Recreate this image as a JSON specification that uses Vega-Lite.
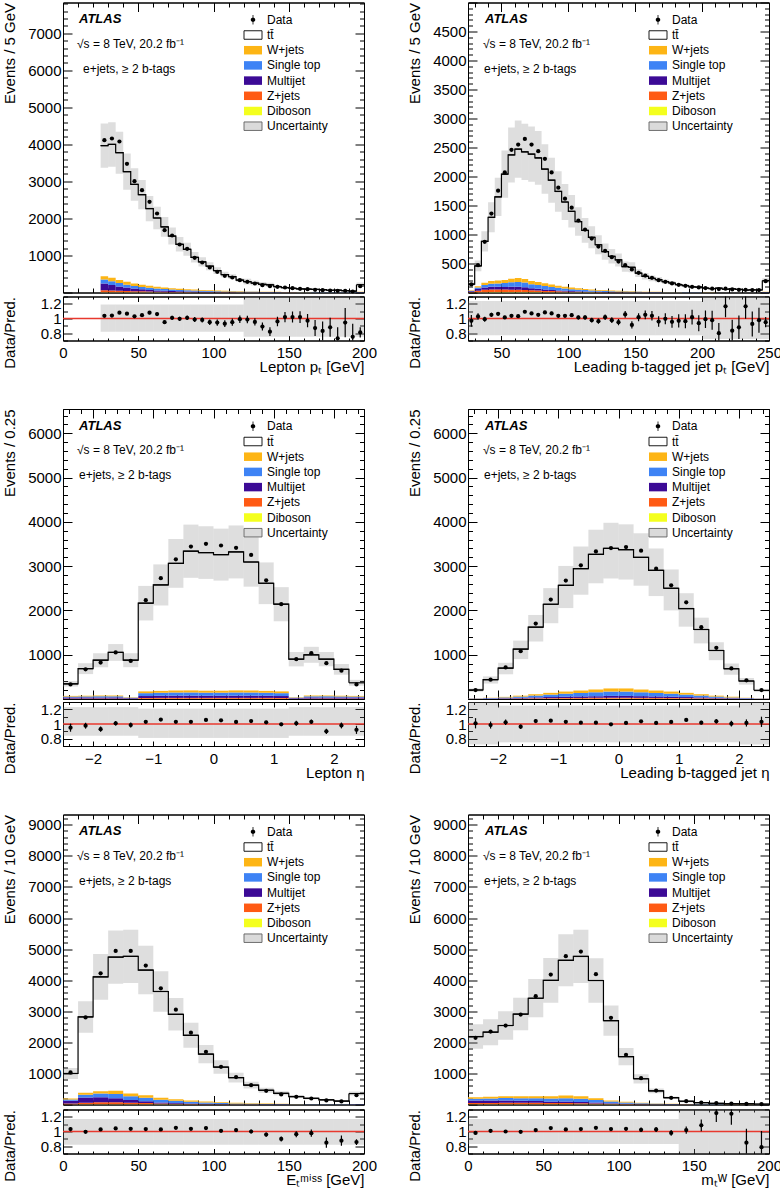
{
"$schema": "https://vega.github.io/schema/vega-lite/v6.json",
"background": "white",
"padding": {"left": 1, "top": 1.5, "right": 0, "bottom": 0},
"config": {
  "font": "Liberation Sans",
  "view": {"stroke": "black", "strokeWidth": 1},
  "axis": {"grid": false, "domain": false, "labelFont": "Liberation Sans", "labelFontSize": 15, "labelColor": "black", "titleFont": "Liberation Sans", "titleFontSize": 15, "titleFontWeight": "normal", "titleColor": "black", "tickColor": "black", "tickWidth": 1, "labelFlush": false, "labelOverlap": false, "zindex": 1},
  "text": {"font": "Liberation Sans", "color": "black"}
},
"datasets": {
"p1": [
{"lo":25,"hi":30,"c":27.5,"d":4113,"p":3966,"ul":3371,"uh":4561,"r":1.037,"re":0.016,"bl":0.82,"bh":1.19,"W+jets":90,"Single top":108,"Multijet":180,"Z+jets":55,"Diboson":7},
{"lo":30,"hi":35,"c":32.5,"d":4158,"p":3998,"ul":3398,"uh":4598,"r":1.04,"re":0.016,"bl":0.82,"bh":1.19,"W+jets":95,"Single top":100,"Multijet":150,"Z+jets":48,"Diboson":7},
{"lo":35,"hi":40,"c":37.5,"d":4077,"p":3775,"ul":3209,"uh":4341,"r":1.08,"re":0.016,"bl":0.82,"bh":1.19,"W+jets":85,"Single top":90,"Multijet":115,"Z+jets":43,"Diboson":7},
{"lo":40,"hi":45,"c":42.5,"d":3474,"p":3262,"ul":2773,"uh":3751,"r":1.065,"re":0.017,"bl":0.82,"bh":1.19,"W+jets":78,"Single top":80,"Multijet":90,"Z+jets":36,"Diboson":6},
{"lo":45,"hi":50,"c":47.5,"d":3006,"p":2918,"ul":2480,"uh":3356,"r":1.03,"re":0.019,"bl":0.82,"bh":1.19,"W+jets":70,"Single top":70,"Multijet":70,"Z+jets":30,"Diboson":5},
{"lo":50,"hi":55,"c":52.5,"d":2763,"p":2641,"ul":2245,"uh":3037,"r":1.046,"re":0.02,"bl":0.82,"bh":1.19,"W+jets":62,"Single top":62,"Multijet":55,"Z+jets":26,"Diboson":5},
{"lo":55,"hi":60,"c":57.5,"d":2448,"p":2267,"ul":1927,"uh":2607,"r":1.08,"re":0.021,"bl":0.82,"bh":1.19,"W+jets":55,"Single top":55,"Multijet":45,"Z+jets":21,"Diboson":4},
{"lo":60,"hi":65,"c":62.5,"d":2133,"p":2012,"ul":1710,"uh":2314,"r":1.06,"re":0.023,"bl":0.82,"bh":1.19,"W+jets":48,"Single top":50,"Multijet":35,"Z+jets":18,"Diboson":4},
{"lo":65,"hi":70,"c":67.5,"d":1683,"p":1772,"ul":1506,"uh":2038,"r":0.95,"re":0.024,"bl":0.82,"bh":1.19,"W+jets":42,"Single top":45,"Multijet":30,"Z+jets":15,"Diboson":3},
{"lo":70,"hi":75,"c":72.5,"d":1539,"p":1524,"ul":1295,"uh":1753,"r":1.01,"re":0.026,"bl":0.82,"bh":1.19,"W+jets":37,"Single top":40,"Multijet":25,"Z+jets":13,"Diboson":3},
{"lo":75,"hi":80,"c":77.5,"d":1296,"p":1302,"ul":1107,"uh":1497,"r":0.995,"re":0.028,"bl":0.82,"bh":1.19,"W+jets":33,"Single top":35,"Multijet":21,"Z+jets":11,"Diboson":3},
{"lo":80,"hi":85,"c":82.5,"d":1179,"p":1167,"ul":992,"uh":1342,"r":1.01,"re":0.03,"bl":0.82,"bh":1.19,"W+jets":29,"Single top":31,"Multijet":18,"Z+jets":9,"Diboson":3},
{"lo":85,"hi":90,"c":87.5,"d":936,"p":949,"ul":807,"uh":1091,"r":0.986,"re":0.033,"bl":0.82,"bh":1.19,"W+jets":26,"Single top":27,"Multijet":16,"Z+jets":8,"Diboson":2},
{"lo":90,"hi":95,"c":92.5,"d":810,"p":827,"ul":703,"uh":951,"r":0.98,"re":0.035,"bl":0.82,"bh":1.19,"W+jets":23,"Single top":24,"Multijet":13,"Z+jets":7,"Diboson":2},
{"lo":95,"hi":100,"c":97.5,"d":675,"p":711,"ul":604,"uh":818,"r":0.95,"re":0.038,"bl":0.82,"bh":1.19,"W+jets":20,"Single top":21,"Multijet":11,"Z+jets":6,"Diboson":2},
{"lo":100,"hi":105,"c":102.5,"d":558,"p":591,"ul":502,"uh":680,"r":0.944,"re":0.042,"bl":0.82,"bh":1.19,"W+jets":18,"Single top":18,"Multijet":9,"Z+jets":5,"Diboson":2},
{"lo":105,"hi":110,"c":107.5,"d":450,"p":484,"ul":411,"uh":557,"r":0.93,"re":0.047,"bl":0.82,"bh":1.19,"W+jets":16,"Single top":16,"Multijet":7,"Z+jets":4,"Diboson":2},
{"lo":110,"hi":115,"c":112.5,"d":405,"p":426,"ul":362,"uh":490,"r":0.95,"re":0.05,"bl":0.82,"bh":1.19,"W+jets":14,"Single top":14,"Multijet":6,"Z+jets":3,"Diboson":2},
{"lo":115,"hi":120,"c":117.5,"d":333,"p":336,"ul":286,"uh":386,"r":0.99,"re":0.05,"bl":0.82,"bh":1.19,"W+jets":12,"Single top":12,"Multijet":5,"Z+jets":3,"Diboson":2},
{"lo":120,"hi":125,"c":122.5,"d":288,"p":292,"ul":219,"uh":374,"r":0.986,"re":0.05,"bl":0.75,"bh":1.29,"W+jets":11,"Single top":11,"Multijet":4,"Z+jets":2,"Diboson":2},
{"lo":125,"hi":130,"c":127.5,"d":243,"p":255,"ul":191,"uh":326,"r":0.953,"re":0.05,"bl":0.75,"bh":1.29,"W+jets":9,"Single top":10,"Multijet":3,"Z+jets":2,"Diboson":2},
{"lo":130,"hi":135,"c":132.5,"d":198,"p":222,"ul":167,"uh":284,"r":0.89,"re":0.055,"bl":0.75,"bh":1.29,"W+jets":8,"Single top":9,"Multijet":3,"Z+jets":2,"Diboson":1},
{"lo":135,"hi":140,"c":137.5,"d":171,"p":208,"ul":156,"uh":266,"r":0.82,"re":0.06,"bl":0.75,"bh":1.29,"W+jets":7,"Single top":8,"Multijet":2,"Z+jets":2,"Diboson":1},
{"lo":140,"hi":145,"c":142.5,"d":153,"p":159,"ul":119,"uh":204,"r":0.96,"re":0.065,"bl":0.75,"bh":1.29,"W+jets":6,"Single top":7,"Multijet":2,"Z+jets":2,"Diboson":1},
{"lo":145,"hi":150,"c":147.5,"d":135,"p":132,"ul":99,"uh":169,"r":1.02,"re":0.07,"bl":0.75,"bh":1.29,"W+jets":6,"Single top":6,"Multijet":2,"Z+jets":1,"Diboson":1},
{"lo":150,"hi":155,"c":152.5,"d":117,"p":115,"ul":86,"uh":147,"r":1.02,"re":0.075,"bl":0.75,"bh":1.29,"W+jets":5,"Single top":5,"Multijet":2,"Z+jets":1,"Diboson":1},
{"lo":155,"hi":160,"c":157.5,"d":99,"p":97,"ul":73,"uh":124,"r":1.02,"re":0.08,"bl":0.75,"bh":1.29,"W+jets":4,"Single top":5,"Multijet":1,"Z+jets":1,"Diboson":1},
{"lo":160,"hi":165,"c":162.5,"d":90,"p":93,"ul":70,"uh":119,"r":0.97,"re":0.09,"bl":0.75,"bh":1.29,"W+jets":4,"Single top":4,"Multijet":1,"Z+jets":1,"Diboson":1},
{"lo":165,"hi":170,"c":167.5,"d":72,"p":83,"ul":62,"uh":106,"r":0.87,"re":0.11,"bl":0.75,"bh":1.29,"W+jets":4,"Single top":4,"Multijet":1,"Z+jets":1,"Diboson":0},
{"lo":170,"hi":175,"c":172.5,"d":63,"p":76,"ul":57,"uh":97,"r":0.83,"re":0.13,"bl":0.75,"bh":1.29,"W+jets":3,"Single top":3,"Multijet":1,"Z+jets":1,"Diboson":1},
{"lo":175,"hi":180,"c":177.5,"d":54,"p":61,"ul":46,"uh":78,"r":0.88,"re":0.13,"bl":0.75,"bh":1.29,"W+jets":3,"Single top":3,"Multijet":1,"Z+jets":1,"Diboson":0},
{"lo":180,"hi":185,"c":182.5,"d":45,"p":62,"ul":47,"uh":79,"r":0.73,"re":0.15,"bl":0.75,"bh":1.29,"W+jets":3,"Single top":2,"Multijet":1,"Z+jets":1,"Diboson":0},
{"lo":185,"hi":190,"c":187.5,"d":45,"p":48,"ul":36,"uh":61,"r":0.944,"re":0.2,"bl":0.75,"bh":1.29,"W+jets":2,"Single top":2,"Multijet":1,"Z+jets":1,"Diboson":0},
{"lo":190,"hi":195,"c":192.5,"d":27,"p":36,"ul":27,"uh":46,"r":0.75,"re":0.18,"bl":0.75,"bh":1.29,"W+jets":2,"Single top":2,"Multijet":1,"Z+jets":1,"Diboson":0},
{"lo":195,"hi":200,"c":197.5,"d":171,"p":211,"ul":158,"uh":270,"r":0.81,"re":0.07,"bl":0.75,"bh":1.29,"W+jets":8,"Single top":7,"Multijet":2,"Z+jets":2,"Diboson":1}
],
"p2": [
{"lo":25,"hi":30,"c":27.5,"d":139,"p":144,"ul":115,"uh":173,"r":0.968,"re":0.08,"bl":0.77,"bh":1.24,"W+jets":8,"Single top":10,"Multijet":12,"Z+jets":8,"Diboson":2},
{"lo":30,"hi":35,"c":32.5,"d":471,"p":458,"ul":366,"uh":550,"r":1.028,"re":0.045,"bl":0.77,"bh":1.24,"W+jets":22,"Single top":28,"Multijet":30,"Z+jets":25,"Diboson":4},
{"lo":35,"hi":40,"c":37.5,"d":873,"p":882,"ul":706,"uh":1058,"r":0.99,"re":0.034,"bl":0.77,"bh":1.24,"W+jets":35,"Single top":45,"Multijet":40,"Z+jets":40,"Diboson":6},
{"lo":40,"hi":45,"c":42.5,"d":1361,"p":1296,"ul":1037,"uh":1555,"r":1.05,"re":0.027,"bl":0.77,"bh":1.24,"W+jets":45,"Single top":55,"Multijet":45,"Z+jets":45,"Diboson":7},
{"lo":45,"hi":50,"c":47.5,"d":1755,"p":1649,"ul":1319,"uh":1979,"r":1.064,"re":0.024,"bl":0.77,"bh":1.24,"W+jets":48,"Single top":60,"Multijet":45,"Z+jets":45,"Diboson":7},
{"lo":50,"hi":55,"c":52.5,"d":2070,"p":2041,"ul":1633,"uh":2449,"r":1.014,"re":0.022,"bl":0.77,"bh":1.24,"W+jets":52,"Single top":68,"Multijet":45,"Z+jets":42,"Diboson":8},
{"lo":55,"hi":60,"c":57.5,"d":2460,"p":2372,"ul":1898,"uh":2846,"r":1.037,"re":0.02,"bl":0.77,"bh":1.24,"W+jets":60,"Single top":80,"Multijet":50,"Z+jets":40,"Diboson":8},
{"lo":60,"hi":65,"c":62.5,"d":2551,"p":2472,"ul":1978,"uh":2966,"r":1.032,"re":0.02,"bl":0.77,"bh":1.24,"W+jets":65,"Single top":85,"Multijet":50,"Z+jets":40,"Diboson":8},
{"lo":65,"hi":70,"c":67.5,"d":2648,"p":2425,"ul":1940,"uh":2910,"r":1.092,"re":0.02,"bl":0.77,"bh":1.24,"W+jets":62,"Single top":82,"Multijet":45,"Z+jets":36,"Diboson":8},
{"lo":70,"hi":75,"c":72.5,"d":2551,"p":2386,"ul":1909,"uh":2863,"r":1.069,"re":0.02,"bl":0.77,"bh":1.24,"W+jets":55,"Single top":72,"Multijet":35,"Z+jets":30,"Diboson":7},
{"lo":75,"hi":80,"c":77.5,"d":2436,"p":2320,"ul":1856,"uh":2784,"r":1.05,"re":0.02,"bl":0.77,"bh":1.24,"W+jets":50,"Single top":66,"Multijet":30,"Z+jets":26,"Diboson":7},
{"lo":80,"hi":85,"c":82.5,"d":2305,"p":2128,"ul":1702,"uh":2554,"r":1.083,"re":0.021,"bl":0.77,"bh":1.24,"W+jets":45,"Single top":60,"Multijet":25,"Z+jets":22,"Diboson":6},
{"lo":85,"hi":90,"c":87.5,"d":2070,"p":1936,"ul":1549,"uh":2323,"r":1.069,"re":0.022,"bl":0.77,"bh":1.24,"W+jets":40,"Single top":52,"Multijet":20,"Z+jets":18,"Diboson":6},
{"lo":90,"hi":95,"c":92.5,"d":1807,"p":1742,"ul":1394,"uh":2090,"r":1.037,"re":0.024,"bl":0.77,"bh":1.24,"W+jets":35,"Single top":46,"Multijet":16,"Z+jets":15,"Diboson":5},
{"lo":95,"hi":100,"c":97.5,"d":1618,"p":1560,"ul":1248,"uh":1872,"r":1.037,"re":0.025,"bl":0.77,"bh":1.24,"W+jets":31,"Single top":40,"Multijet":13,"Z+jets":12,"Diboson":5},
{"lo":100,"hi":105,"c":102.5,"d":1463,"p":1399,"ul":1119,"uh":1679,"r":1.046,"re":0.026,"bl":0.77,"bh":1.24,"W+jets":27,"Single top":34,"Multijet":10,"Z+jets":10,"Diboson":4},
{"lo":105,"hi":110,"c":107.5,"d":1240,"p":1223,"ul":978,"uh":1468,"r":1.014,"re":0.028,"bl":0.77,"bh":1.24,"W+jets":23,"Single top":29,"Multijet":8,"Z+jets":8,"Diboson":4},
{"lo":110,"hi":115,"c":112.5,"d":1085,"p":1070,"ul":856,"uh":1284,"r":1.014,"re":0.03,"bl":0.77,"bh":1.24,"W+jets":20,"Single top":25,"Multijet":7,"Z+jets":7,"Diboson":3},
{"lo":115,"hi":120,"c":117.5,"d":930,"p":952,"ul":762,"uh":1142,"r":0.977,"re":0.033,"bl":0.77,"bh":1.24,"W+jets":17,"Single top":21,"Multijet":6,"Z+jets":6,"Diboson":3},
{"lo":120,"hi":125,"c":122.5,"d":793,"p":823,"ul":658,"uh":988,"r":0.963,"re":0.036,"bl":0.77,"bh":1.24,"W+jets":15,"Single top":18,"Multijet":5,"Z+jets":5,"Diboson":2},
{"lo":125,"hi":130,"c":127.5,"d":718,"p":705,"ul":564,"uh":846,"r":1.018,"re":0.037,"bl":0.77,"bh":1.24,"W+jets":13,"Single top":15,"Multijet":4,"Z+jets":4,"Diboson":2},
{"lo":130,"hi":135,"c":132.5,"d":609,"p":623,"ul":498,"uh":748,"r":0.977,"re":0.04,"bl":0.77,"bh":1.24,"W+jets":11,"Single top":13,"Multijet":3,"Z+jets":4,"Diboson":2},
{"lo":135,"hi":140,"c":137.5,"d":534,"p":562,"ul":450,"uh":674,"r":0.95,"re":0.043,"bl":0.77,"bh":1.24,"W+jets":10,"Single top":11,"Multijet":3,"Z+jets":3,"Diboson":2},
{"lo":140,"hi":145,"c":142.5,"d":471,"p":446,"ul":357,"uh":535,"r":1.055,"re":0.046,"bl":0.77,"bh":1.24,"W+jets":8,"Single top":10,"Multijet":2,"Z+jets":3,"Diboson":1},
{"lo":145,"hi":150,"c":147.5,"d":397,"p":435,"ul":348,"uh":522,"r":0.913,"re":0.05,"bl":0.77,"bh":1.24,"W+jets":7,"Single top":8,"Multijet":2,"Z+jets":2,"Diboson":1},
{"lo":150,"hi":155,"c":152.5,"d":339,"p":333,"ul":266,"uh":400,"r":1.018,"re":0.055,"bl":0.77,"bh":1.24,"W+jets":6,"Single top":7,"Multijet":2,"Z+jets":2,"Diboson":1},
{"lo":155,"hi":160,"c":157.5,"d":293,"p":279,"ul":223,"uh":335,"r":1.05,"re":0.06,"bl":0.77,"bh":1.24,"W+jets":5,"Single top":6,"Multijet":1,"Z+jets":2,"Diboson":1},
{"lo":160,"hi":165,"c":162.5,"d":253,"p":244,"ul":195,"uh":293,"r":1.037,"re":0.065,"bl":0.77,"bh":1.24,"W+jets":5,"Single top":5,"Multijet":1,"Z+jets":1,"Diboson":1},
{"lo":165,"hi":170,"c":167.5,"d":213,"p":222,"ul":178,"uh":266,"r":0.959,"re":0.07,"bl":0.77,"bh":1.24,"W+jets":4,"Single top":4,"Multijet":1,"Z+jets":1,"Diboson":1},
{"lo":170,"hi":175,"c":172.5,"d":185,"p":186,"ul":149,"uh":223,"r":0.995,"re":0.075,"bl":0.77,"bh":1.24,"W+jets":4,"Single top":4,"Multijet":1,"Z+jets":1,"Diboson":0},
{"lo":175,"hi":180,"c":177.5,"d":156,"p":164,"ul":131,"uh":197,"r":0.954,"re":0.08,"bl":0.77,"bh":1.24,"W+jets":3,"Single top":3,"Multijet":1,"Z+jets":1,"Diboson":0},
{"lo":180,"hi":185,"c":182.5,"d":133,"p":137,"ul":110,"uh":164,"r":0.968,"re":0.09,"bl":0.77,"bh":1.24,"W+jets":3,"Single top":3,"Multijet":1,"Z+jets":1,"Diboson":0},
{"lo":185,"hi":190,"c":187.5,"d":116,"p":120,"ul":96,"uh":144,"r":0.963,"re":0.095,"bl":0.77,"bh":1.24,"W+jets":2,"Single top":3,"Multijet":0,"Z+jets":1,"Diboson":0},
{"lo":190,"hi":195,"c":192.5,"d":99,"p":97,"ul":78,"uh":116,"r":1.018,"re":0.1,"bl":0.77,"bh":1.24,"W+jets":2,"Single top":2,"Multijet":0,"Z+jets":1,"Diboson":0},
{"lo":195,"hi":200,"c":197.5,"d":88,"p":94,"ul":75,"uh":113,"r":0.936,"re":0.11,"bl":0.77,"bh":1.24,"W+jets":2,"Single top":2,"Multijet":0,"Z+jets":1,"Diboson":0},
{"lo":200,"hi":205,"c":202.5,"d":76,"p":77,"ul":62,"uh":92,"r":0.99,"re":0.12,"bl":0.72,"bh":1.3,"W+jets":2,"Single top":2,"Multijet":0,"Z+jets":0,"Diboson":0},
{"lo":205,"hi":210,"c":207.5,"d":65,"p":67,"ul":54,"uh":80,"r":0.977,"re":0.13,"bl":0.72,"bh":1.3,"W+jets":1,"Single top":2,"Multijet":0,"Z+jets":0,"Diboson":0},
{"lo":210,"hi":215,"c":212.5,"d":59,"p":74,"ul":59,"uh":89,"r":0.8,"re":0.14,"bl":0.72,"bh":1.3,"W+jets":1,"Single top":1,"Multijet":0,"Z+jets":0,"Diboson":0},
{"lo":215,"hi":220,"c":217.5,"d":65,"p":56,"ul":45,"uh":67,"r":1.166,"re":0.15,"bl":0.72,"bh":1.3,"W+jets":1,"Single top":1,"Multijet":0,"Z+jets":0,"Diboson":0},
{"lo":220,"hi":225,"c":222.5,"d":53,"p":64,"ul":51,"uh":77,"r":0.834,"re":0.15,"bl":0.72,"bh":1.3,"W+jets":1,"Single top":1,"Multijet":0,"Z+jets":0,"Diboson":0},
{"lo":225,"hi":230,"c":227.5,"d":47,"p":53,"ul":42,"uh":64,"r":0.88,"re":0.16,"bl":0.72,"bh":1.3,"W+jets":1,"Single top":1,"Multijet":0,"Z+jets":0,"Diboson":0},
{"lo":230,"hi":235,"c":232.5,"d":47,"p":40,"ul":32,"uh":48,"r":1.166,"re":0.17,"bl":0.72,"bh":1.3,"W+jets":1,"Single top":1,"Multijet":0,"Z+jets":0,"Diboson":0},
{"lo":235,"hi":240,"c":237.5,"d":42,"p":45,"ul":36,"uh":54,"r":0.926,"re":0.17,"bl":0.72,"bh":1.3,"W+jets":1,"Single top":1,"Multijet":0,"Z+jets":0,"Diboson":0},
{"lo":240,"hi":245,"c":242.5,"d":42,"p":43,"ul":34,"uh":52,"r":0.977,"re":0.17,"bl":0.72,"bh":1.3,"W+jets":1,"Single top":1,"Multijet":0,"Z+jets":0,"Diboson":0},
{"lo":245,"hi":250,"c":247.5,"d":196,"p":206,"ul":165,"uh":247,"r":0.95,"re":0.07,"bl":0.72,"bh":1.3,"W+jets":5,"Single top":6,"Multijet":1,"Z+jets":1,"Diboson":1}
],
"p3": [
{"lo":-2.5,"hi":-2.25,"c":-2.375,"d":328,"p":343,"ul":281,"uh":405,"r":0.95,"re":0.055,"bl":0.84,"bh":1.23,"W+jets":15,"Single top":20,"Multijet":25,"Z+jets":8,"Diboson":2},
{"lo":-2.25,"hi":-2,"c":-2.125,"d":670,"p":686,"ul":563,"uh":809,"r":0.977,"re":0.04,"bl":0.84,"bh":1.23,"W+jets":16,"Single top":22,"Multijet":26,"Z+jets":8,"Diboson":2},
{"lo":-2,"hi":-1.75,"c":-1.875,"d":823,"p":876,"ul":718,"uh":1034,"r":0.93,"re":0.035,"bl":0.84,"bh":1.23,"W+jets":17,"Single top":24,"Multijet":26,"Z+jets":8,"Diboson":2},
{"lo":-1.75,"hi":-1.5,"c":-1.625,"d":1052,"p":1052,"ul":863,"uh":1241,"r":1.01,"re":0.031,"bl":0.84,"bh":1.23,"W+jets":18,"Single top":25,"Multijet":26,"Z+jets":8,"Diboson":2},
{"lo":-1.5,"hi":-1.25,"c":-1.375,"d":861,"p":876,"ul":718,"uh":1034,"r":0.986,"re":0.034,"bl":0.84,"bh":1.23,"W+jets":9,"Single top":12,"Multijet":14,"Z+jets":4,"Diboson":1},
{"lo":-1.25,"hi":-1,"c":-1.125,"d":2233,"p":2164,"ul":1774,"uh":2554,"r":1.03,"re":0.021,"bl":0.81,"bh":1.21,"W+jets":40,"Single top":65,"Multijet":45,"Z+jets":18,"Diboson":4},
{"lo":-1,"hi":-0.75,"c":-0.875,"d":2728,"p":2576,"ul":2112,"uh":3040,"r":1.06,"re":0.02,"bl":0.81,"bh":1.21,"W+jets":42,"Single top":68,"Multijet":48,"Z+jets":20,"Diboson":5},
{"lo":-0.75,"hi":-0.5,"c":-0.625,"d":3155,"p":3063,"ul":2512,"uh":3614,"r":1.03,"re":0.018,"bl":0.81,"bh":1.21,"W+jets":45,"Single top":72,"Multijet":50,"Z+jets":20,"Diboson":5},
{"lo":-0.5,"hi":-0.25,"c":-0.375,"d":3444,"p":3338,"ul":2737,"uh":3939,"r":1.03,"re":0.017,"bl":0.81,"bh":1.21,"W+jets":46,"Single top":73,"Multijet":50,"Z+jets":20,"Diboson":5},
{"lo":-0.25,"hi":0,"c":-0.125,"d":3505,"p":3307,"ul":2712,"uh":3902,"r":1.055,"re":0.017,"bl":0.81,"bh":1.21,"W+jets":44,"Single top":70,"Multijet":48,"Z+jets":20,"Diboson":5},
{"lo":0,"hi":0.25,"c":0.125,"d":3467,"p":3261,"ul":2674,"uh":3848,"r":1.05,"re":0.017,"bl":0.81,"bh":1.21,"W+jets":44,"Single top":70,"Multijet":48,"Z+jets":20,"Diboson":5},
{"lo":0.25,"hi":0.5,"c":0.375,"d":3414,"p":3322,"ul":2724,"uh":3920,"r":1.028,"re":0.017,"bl":0.81,"bh":1.21,"W+jets":46,"Single top":73,"Multijet":50,"Z+jets":20,"Diboson":5},
{"lo":0.5,"hi":0.75,"c":0.625,"d":3254,"p":3094,"ul":2537,"uh":3651,"r":1.04,"re":0.018,"bl":0.81,"bh":1.21,"W+jets":45,"Single top":72,"Multijet":50,"Z+jets":20,"Diboson":5},
{"lo":0.75,"hi":1,"c":0.875,"d":2682,"p":2614,"ul":2143,"uh":3085,"r":1.023,"re":0.02,"bl":0.81,"bh":1.21,"W+jets":42,"Single top":68,"Multijet":48,"Z+jets":20,"Diboson":5},
{"lo":1,"hi":1.25,"c":1.125,"d":2141,"p":2141,"ul":1756,"uh":2526,"r":0.995,"re":0.022,"bl":0.81,"bh":1.21,"W+jets":40,"Single top":65,"Multijet":45,"Z+jets":18,"Diboson":4},
{"lo":1.25,"hi":1.5,"c":1.375,"d":899,"p":899,"ul":737,"uh":1061,"r":1.01,"re":0.034,"bl":0.84,"bh":1.23,"W+jets":9,"Single top":12,"Multijet":14,"Z+jets":4,"Diboson":1},
{"lo":1.5,"hi":1.75,"c":1.625,"d":1036,"p":998,"ul":818,"uh":1178,"r":1.03,"re":0.031,"bl":0.84,"bh":1.23,"W+jets":18,"Single top":25,"Multijet":26,"Z+jets":8,"Diboson":2},
{"lo":1.75,"hi":2,"c":1.875,"d":808,"p":899,"ul":737,"uh":1061,"r":0.9,"re":0.035,"bl":0.84,"bh":1.23,"W+jets":17,"Single top":24,"Multijet":26,"Z+jets":8,"Diboson":2},
{"lo":2,"hi":2.25,"c":2.125,"d":640,"p":670,"ul":549,"uh":791,"r":0.98,"re":0.04,"bl":0.84,"bh":1.23,"W+jets":16,"Single top":22,"Multijet":26,"Z+jets":8,"Diboson":2},
{"lo":2.25,"hi":2.5,"c":2.375,"d":328,"p":366,"ul":300,"uh":432,"r":0.92,"re":0.055,"bl":0.84,"bh":1.23,"W+jets":15,"Single top":20,"Multijet":25,"Z+jets":8,"Diboson":2}
],
"p4": [
{"lo":-2.5,"hi":-2.25,"c":-2.375,"d":203,"p":203,"ul":162,"uh":238,"r":1.01,"re":0.07,"bl":0.72,"bh":1.3,"W+jets":3,"Single top":5,"Multijet":4,"Z+jets":2,"Diboson":1},
{"lo":-2.25,"hi":-2,"c":-2.125,"d":436,"p":436,"ul":349,"uh":510,"r":0.986,"re":0.048,"bl":0.72,"bh":1.3,"W+jets":6,"Single top":10,"Multijet":7,"Z+jets":4,"Diboson":1},
{"lo":-2,"hi":-1.75,"c":-1.875,"d":713,"p":698,"ul":558,"uh":817,"r":1.023,"re":0.037,"bl":0.75,"bh":1.25,"W+jets":12,"Single top":18,"Multijet":10,"Z+jets":6,"Diboson":2},
{"lo":-1.75,"hi":-1.5,"c":-1.625,"d":1081,"p":1127,"ul":902,"uh":1319,"r":0.963,"re":0.03,"bl":0.75,"bh":1.25,"W+jets":20,"Single top":28,"Multijet":15,"Z+jets":9,"Diboson":3},
{"lo":-1.5,"hi":-1.25,"c":-1.375,"d":1705,"p":1622,"ul":1298,"uh":1898,"r":1.04,"re":0.024,"bl":0.75,"bh":1.25,"W+jets":30,"Single top":42,"Multijet":20,"Z+jets":12,"Diboson":4},
{"lo":-1.25,"hi":-1,"c":-1.125,"d":2245,"p":2140,"ul":1712,"uh":2504,"r":1.046,"re":0.021,"bl":0.75,"bh":1.25,"W+jets":40,"Single top":55,"Multijet":25,"Z+jets":14,"Diboson":5},
{"lo":-1,"hi":-0.75,"c":-0.875,"d":2674,"p":2568,"ul":2054,"uh":3005,"r":1.03,"re":0.019,"bl":0.75,"bh":1.25,"W+jets":48,"Single top":68,"Multijet":30,"Z+jets":16,"Diboson":6},
{"lo":-0.75,"hi":-0.5,"c":-0.625,"d":3019,"p":2944,"ul":2355,"uh":3444,"r":1.018,"re":0.018,"bl":0.75,"bh":1.25,"W+jets":55,"Single top":78,"Multijet":34,"Z+jets":18,"Diboson":6},
{"lo":-0.5,"hi":-0.25,"c":-0.375,"d":3334,"p":3267,"ul":2614,"uh":3822,"r":1.018,"re":0.017,"bl":0.75,"bh":1.25,"W+jets":62,"Single top":88,"Multijet":38,"Z+jets":19,"Diboson":7},
{"lo":-0.25,"hi":0,"c":-0.125,"d":3410,"p":3402,"ul":2722,"uh":3980,"r":0.995,"re":0.017,"bl":0.75,"bh":1.25,"W+jets":70,"Single top":98,"Multijet":42,"Z+jets":20,"Diboson":8},
{"lo":0,"hi":0.25,"c":0.125,"d":3432,"p":3372,"ul":2698,"uh":3945,"r":1.014,"re":0.017,"bl":0.75,"bh":1.25,"W+jets":70,"Single top":98,"Multijet":42,"Z+jets":20,"Diboson":8},
{"lo":0.25,"hi":0.5,"c":0.375,"d":3349,"p":3199,"ul":2559,"uh":3743,"r":1.037,"re":0.017,"bl":0.75,"bh":1.25,"W+jets":62,"Single top":88,"Multijet":38,"Z+jets":19,"Diboson":7},
{"lo":0.5,"hi":0.75,"c":0.625,"d":2944,"p":2906,"ul":2325,"uh":3400,"r":1.014,"re":0.018,"bl":0.75,"bh":1.25,"W+jets":55,"Single top":78,"Multijet":34,"Z+jets":18,"Diboson":6},
{"lo":0.75,"hi":1,"c":0.875,"d":2568,"p":2501,"ul":2001,"uh":2926,"r":1.028,"re":0.02,"bl":0.75,"bh":1.25,"W+jets":48,"Single top":68,"Multijet":30,"Z+jets":16,"Diboson":6},
{"lo":1,"hi":1.25,"c":1.125,"d":2185,"p":2043,"ul":1634,"uh":2390,"r":1.055,"re":0.021,"bl":0.75,"bh":1.25,"W+jets":40,"Single top":55,"Multijet":25,"Z+jets":14,"Diboson":5},
{"lo":1.25,"hi":1.5,"c":1.375,"d":1622,"p":1570,"ul":1256,"uh":1837,"r":1.018,"re":0.025,"bl":0.75,"bh":1.25,"W+jets":30,"Single top":42,"Multijet":20,"Z+jets":12,"Diboson":4},
{"lo":1.5,"hi":1.75,"c":1.625,"d":1157,"p":1096,"ul":877,"uh":1282,"r":1.037,"re":0.03,"bl":0.75,"bh":1.25,"W+jets":20,"Single top":28,"Multijet":15,"Z+jets":9,"Diboson":3},
{"lo":1.75,"hi":2,"c":1.875,"d":691,"p":683,"ul":546,"uh":799,"r":1.005,"re":0.038,"bl":0.75,"bh":1.25,"W+jets":12,"Single top":18,"Multijet":10,"Z+jets":6,"Diboson":2},
{"lo":2,"hi":2.25,"c":2.125,"d":421,"p":406,"ul":325,"uh":475,"r":1.014,"re":0.049,"bl":0.72,"bh":1.3,"W+jets":6,"Single top":10,"Multijet":7,"Z+jets":4,"Diboson":1},
{"lo":2.25,"hi":2.5,"c":2.375,"d":203,"p":195,"ul":156,"uh":228,"r":1.03,"re":0.07,"bl":0.72,"bh":1.3,"W+jets":3,"Single top":5,"Multijet":4,"Z+jets":2,"Diboson":1}
],
"p5": [
{"lo":0,"hi":10,"c":5,"d":1031,"p":998,"ul":818,"uh":1178,"r":1.033,"re":0.03,"bl":0.82,"bh":1.17,"W+jets":30,"Single top":40,"Multijet":90,"Z+jets":30,"Diboson":3},
{"lo":10,"hi":20,"c":15,"d":2803,"p":2817,"ul":2310,"uh":3324,"r":0.995,"re":0.019,"bl":0.82,"bh":1.17,"W+jets":60,"Single top":90,"Multijet":170,"Z+jets":50,"Diboson":6},
{"lo":20,"hi":30,"c":25,"d":4221,"p":4106,"ul":3367,"uh":4845,"r":1.028,"re":0.016,"bl":0.82,"bh":1.17,"W+jets":80,"Single top":120,"Multijet":160,"Z+jets":60,"Diboson":10},
{"lo":30,"hi":40,"c":35,"d":4941,"p":4742,"ul":3888,"uh":5596,"r":1.042,"re":0.015,"bl":0.82,"bh":1.17,"W+jets":100,"Single top":140,"Multijet":130,"Z+jets":60,"Diboson":10},
{"lo":40,"hi":50,"c":45,"d":4941,"p":4765,"ul":3907,"uh":5623,"r":1.037,"re":0.015,"bl":0.82,"bh":1.17,"W+jets":90,"Single top":120,"Multijet":90,"Z+jets":45,"Diboson":9},
{"lo":50,"hi":60,"c":55,"d":4468,"p":4325,"ul":3547,"uh":5104,"r":1.033,"re":0.016,"bl":0.82,"bh":1.17,"W+jets":85,"Single top":110,"Multijet":60,"Z+jets":38,"Diboson":8},
{"lo":60,"hi":70,"c":65,"d":3738,"p":3636,"ul":2982,"uh":4290,"r":1.028,"re":0.017,"bl":0.82,"bh":1.17,"W+jets":65,"Single top":85,"Multijet":35,"Z+jets":24,"Diboson":6},
{"lo":70,"hi":80,"c":75,"d":3050,"p":2902,"ul":2380,"uh":3424,"r":1.051,"re":0.019,"bl":0.82,"bh":1.17,"W+jets":55,"Single top":70,"Multijet":25,"Z+jets":17,"Diboson":5},
{"lo":80,"hi":90,"c":85,"d":2309,"p":2227,"ul":1826,"uh":2628,"r":1.037,"re":0.02,"bl":0.82,"bh":1.17,"W+jets":42,"Single top":55,"Multijet":15,"Z+jets":13,"Diboson":4},
{"lo":90,"hi":100,"c":95,"d":1697,"p":1621,"ul":1329,"uh":1913,"r":1.047,"re":0.02,"bl":0.82,"bh":1.17,"W+jets":33,"Single top":42,"Multijet":10,"Z+jets":9,"Diboson":3},
{"lo":100,"hi":110,"c":105,"d":1214,"p":1203,"ul":986,"uh":1420,"r":1.009,"re":0.02,"bl":0.82,"bh":1.17,"W+jets":25,"Single top":32,"Multijet":6,"Z+jets":6,"Diboson":3},
{"lo":110,"hi":120,"c":115,"d":881,"p":865,"ul":709,"uh":1021,"r":1.019,"re":0.025,"bl":0.82,"bh":1.17,"W+jets":18,"Single top":24,"Multijet":4,"Z+jets":5,"Diboson":2},
{"lo":120,"hi":130,"c":125,"d":623,"p":623,"ul":511,"uh":735,"r":1.0,"re":0.028,"bl":0.82,"bh":1.17,"W+jets":13,"Single top":18,"Multijet":3,"Z+jets":4,"Diboson":2},
{"lo":130,"hi":140,"c":135,"d":440,"p":459,"ul":376,"uh":542,"r":0.958,"re":0.03,"bl":0.82,"bh":1.17,"W+jets":10,"Single top":13,"Multijet":2,"Z+jets":3,"Diboson":1},
{"lo":140,"hi":150,"c":145,"d":322,"p":359,"ul":294,"uh":424,"r":0.898,"re":0.035,"bl":0.82,"bh":1.17,"W+jets":7,"Single top":10,"Multijet":2,"Z+jets":2,"Diboson":1},
{"lo":150,"hi":160,"c":155,"d":247,"p":256,"ul":210,"uh":302,"r":0.963,"re":0.04,"bl":0.82,"bh":1.17,"W+jets":5,"Single top":7,"Multijet":1,"Z+jets":2,"Diboson":1},
{"lo":160,"hi":170,"c":165,"d":193,"p":198,"ul":162,"uh":234,"r":0.977,"re":0.05,"bl":0.82,"bh":1.17,"W+jets":4,"Single top":5,"Multijet":1,"Z+jets":1,"Diboson":1},
{"lo":170,"hi":180,"c":175,"d":129,"p":152,"ul":125,"uh":179,"r":0.847,"re":0.07,"bl":0.82,"bh":1.17,"W+jets":3,"Single top":4,"Multijet":1,"Z+jets":1,"Diboson":0},
{"lo":180,"hi":190,"c":185,"d":97,"p":111,"ul":91,"uh":131,"r":0.874,"re":0.07,"bl":0.82,"bh":1.17,"W+jets":2,"Single top":3,"Multijet":1,"Z+jets":1,"Diboson":0},
{"lo":190,"hi":200,"c":195,"d":301,"p":352,"ul":289,"uh":415,"r":0.856,"re":0.04,"bl":0.82,"bh":1.17,"W+jets":6,"Single top":8,"Multijet":2,"Z+jets":2,"Diboson":1}
],
"p6": [
{"lo":0,"hi":10,"c":5,"d":2144,"p":2186,"ul":1793,"uh":2579,"r":0.981,"re":0.021,"bl":0.83,"bh":1.17,"W+jets":50,"Single top":60,"Multijet":80,"Z+jets":40,"Diboson":6},
{"lo":10,"hi":20,"c":15,"d":2348,"p":2327,"ul":1908,"uh":2746,"r":1.009,"re":0.021,"bl":0.83,"bh":1.17,"W+jets":55,"Single top":70,"Multijet":75,"Z+jets":45,"Diboson":7},
{"lo":20,"hi":30,"c":25,"d":2541,"p":2541,"ul":2084,"uh":2998,"r":1.0,"re":0.02,"bl":0.83,"bh":1.17,"W+jets":60,"Single top":80,"Multijet":70,"Z+jets":50,"Diboson":8},
{"lo":30,"hi":40,"c":35,"d":2894,"p":2908,"ul":2385,"uh":3431,"r":0.995,"re":0.019,"bl":0.83,"bh":1.17,"W+jets":65,"Single top":85,"Multijet":60,"Z+jets":50,"Diboson":8},
{"lo":40,"hi":50,"c":45,"d":3484,"p":3419,"ul":2804,"uh":4034,"r":1.019,"re":0.017,"bl":0.83,"bh":1.17,"W+jets":70,"Single top":90,"Multijet":55,"Z+jets":45,"Diboson":9},
{"lo":50,"hi":60,"c":55,"d":4181,"p":3993,"ul":3274,"uh":4712,"r":1.047,"re":0.016,"bl":0.83,"bh":1.17,"W+jets":75,"Single top":95,"Multijet":50,"Z+jets":40,"Diboson":9},
{"lo":60,"hi":70,"c":65,"d":4770,"p":4640,"ul":3805,"uh":5475,"r":1.028,"re":0.015,"bl":0.83,"bh":1.17,"W+jets":85,"Single top":105,"Multijet":50,"Z+jets":40,"Diboson":10},
{"lo":70,"hi":80,"c":75,"d":4920,"p":4763,"ul":3906,"uh":5620,"r":1.033,"re":0.015,"bl":0.83,"bh":1.17,"W+jets":80,"Single top":100,"Multijet":40,"Z+jets":35,"Diboson":9},
{"lo":80,"hi":90,"c":85,"d":4192,"p":3989,"ul":3271,"uh":4707,"r":1.051,"re":0.016,"bl":0.83,"bh":1.17,"W+jets":60,"Single top":80,"Multijet":30,"Z+jets":25,"Diboson":8},
{"lo":90,"hi":100,"c":95,"d":2787,"p":2698,"ul":2212,"uh":3184,"r":1.033,"re":0.02,"bl":0.83,"bh":1.17,"W+jets":35,"Single top":55,"Multijet":18,"Z+jets":15,"Diboson":6},
{"lo":100,"hi":110,"c":105,"d":1597,"p":1540,"ul":1263,"uh":1817,"r":1.037,"re":0.022,"bl":0.83,"bh":1.17,"W+jets":22,"Single top":38,"Multijet":12,"Z+jets":10,"Diboson":4},
{"lo":110,"hi":120,"c":115,"d":847,"p":828,"ul":679,"uh":977,"r":1.023,"re":0.03,"bl":0.83,"bh":1.17,"W+jets":14,"Single top":24,"Multijet":7,"Z+jets":6,"Diboson":3},
{"lo":120,"hi":130,"c":125,"d":450,"p":438,"ul":359,"uh":517,"r":1.028,"re":0.035,"bl":0.83,"bh":1.17,"W+jets":9,"Single top":15,"Multijet":4,"Z+jets":4,"Diboson":2},
{"lo":130,"hi":140,"c":135,"d":214,"p":218,"ul":179,"uh":257,"r":0.981,"re":0.04,"bl":0.83,"bh":1.17,"W+jets":6,"Single top":9,"Multijet":3,"Z+jets":3,"Diboson":1},
{"lo":140,"hi":150,"c":145,"d":107,"p":105,"ul":68,"uh":142,"r":1.019,"re":0.05,"bl":0.7,"bh":1.3,"W+jets":4,"Single top":6,"Multijet":2,"Z+jets":2,"Diboson":1},
{"lo":150,"hi":160,"c":155,"d":64,"p":59,"ul":38,"uh":80,"r":1.084,"re":0.08,"bl":0.7,"bh":1.3,"W+jets":3,"Single top":4,"Multijet":1,"Z+jets":1,"Diboson":1},
{"lo":160,"hi":170,"c":165,"d":45,"p":36,"ul":23,"uh":49,"r":1.251,"re":0.12,"bl":0.7,"bh":1.3,"W+jets":2,"Single top":3,"Multijet":1,"Z+jets":1,"Diboson":0},
{"lo":170,"hi":180,"c":175,"d":30,"p":24,"ul":16,"uh":32,"r":1.242,"re":0.15,"bl":0.7,"bh":1.3,"W+jets":2,"Single top":2,"Multijet":1,"Z+jets":1,"Diboson":0},
{"lo":180,"hi":190,"c":185,"d":20,"p":24,"ul":16,"uh":32,"r":0.847,"re":0.19,"bl":0.7,"bh":1.3,"W+jets":1,"Single top":2,"Multijet":1,"Z+jets":1,"Diboson":0},
{"lo":190,"hi":200,"c":195,"d":14,"p":18,"ul":12,"uh":24,"r":0.786,"re":0.22,"bl":0.7,"bh":1.3,"W+jets":1,"Single top":1,"Multijet":1,"Z+jets":1,"Diboson":0}
]
},
"spacing": 32.5,
"resolve": {"scale": {"color": "independent"}, "legend": {"color": "independent"}},
"vconcat": [
{"vconcat": [
{"hconcat": [
{"width": 301, "height": 290, "data": {"name": "p1"},
 "layer": [
  {"transform": [{"fold": ["Diboson","Z+jets","Multijet","Single top","W+jets"], "as": ["proc","n"]}, {"stack": "n", "groupby": ["lo"], "as": ["s0","s1"]}],
   "mark": {"type": "rect", "clip": true},
   "encoding": {
    "x": {"field": "lo", "type": "quantitative", "scale": {"domain": [0,200], "nice": false, "zero": false}, "axis": {"orient": "bottom", "labels": false, "title": null, "domain": true, "domainColor": "black", "tickCount": 20, "tickSize": {"condition": {"test": "datum.value % 50 === 0", "value": -9}, "value": -4.5}}},
    "x2": {"field": "hi"},
    "y": {"field": "s0", "type": "quantitative", "scale": {"domain": [0,7830], "nice": false, "zero": false}, "axis": {"orient": "left", "values": [1000,2000,3000,4000,5000,6000,7000], "ticks": false, "labelPadding": 2, "format": "d", "title": "Events / 5 GeV", "titleAnchor": "end", "titleX": -49, "titleBaseline": "alphabetic"}},
    "y2": {"field": "s1"},
    "color": {"field": "proc", "type": "nominal", "scale": {"domain": ["Data","tt\u0304","W+jets","Single top","Multijet","Z+jets","Diboson","Uncertainty"], "range": ["black","white","#FDB515","#3E83F5","#3C0A96","#FF5A14","#F4FF1E","#dadada"]},
     "legend": {"orient": "none", "legendX": 184, "legendY": 11.3, "title": null, "padding": 0, "labelFont": "Liberation Sans", "labelFontSize": 12, "labelColor": "black", "labelOffset": 8, "rowPadding": 1.2, "symbolSize": 100,
      "encode": {"symbols": {"update": {"shape": [{"test": "datum.value === 'Data'", "value": "M-0.45,0A0.45,0.45 0 1,1 0.45,0A0.45,0.45 0 1,1 -0.45,0ZM-0.08,-0.95H0.08V0.95H-0.08Z"}, {"value": "M-1.8,-0.85H1.8V0.85H-1.8Z"}], "stroke": [{"test": "indexof(datum.value, 'tt') === 0", "value": "black"}, {"test": "datum.value === 'Uncertainty'", "value": "#606060"}, {"value": "transparent"}], "strokeWidth": {"value": 0.9}}}}}}
   }},
  {"mark": {"type": "rect", "fill": "#888888", "fillOpacity": 0.28, "clip": true},
   "encoding": {
    "x": {"field": "lo", "type": "quantitative", "axis": {"orient": "top", "labels": false, "title": null, "domain": true, "domainColor": "black", "tickCount": 20, "tickSize": {"condition": {"test": "datum.value % 50 === 0", "value": -9}, "value": -4.5}}},
    "x2": {"field": "hi"},
    "y": {"field": "ul", "type": "quantitative", "axis": {"orient": "left", "labels": false, "title": null, "domain": true, "domainColor": "black", "tickCount": 40, "tickSize": {"condition": {"test": "datum.value % 1000 === 0", "value": -9}, "value": -4.5}}},
    "y2": {"field": "uh"}}},
  {"mark": {"type": "line", "interpolate": "step-after", "color": "black", "strokeWidth": 1.2, "clip": true},
   "encoding": {
    "x": {"field": "lo", "type": "quantitative", "axis": null},
    "y": {"field": "p", "type": "quantitative", "axis": {"orient": "right", "labels": false, "title": null, "domain": true, "domainColor": "black", "tickCount": 40, "tickSize": {"condition": {"test": "datum.value % 1000 === 0", "value": -9}, "value": -4.5}}}}},
  {"mark": {"type": "rule", "color": "black", "strokeWidth": 1.2},
   "encoding": {"x": {"field": "lo", "type": "quantitative", "axis": null}, "x2": {"field": "hi"}, "y": {"field": "p", "type": "quantitative", "axis": null}}},
  {"mark": {"type": "point", "filled": true, "color": "black", "size": 18, "opacity": 1},
   "encoding": {"x": {"field": "c", "type": "quantitative", "axis": null}, "y": {"field": "d", "type": "quantitative", "axis": null}}},
  {"data": {"values": [{}]}, "mark": {"type": "text", "text": "ATLAS", "fontSize": 13, "fontWeight": "bold", "fontStyle": "italic", "align": "left", "baseline": "alphabetic"},
   "encoding": {"x": {"datum": 10.63, "type": "quantitative", "axis": null}, "y": {"datum": 7271, "type": "quantitative", "axis": null}}},
  {"data": {"values": [{}]}, "mark": {"type": "text", "text": "\u221as = 8 TeV, 20.2 fb\u207b\u00b9", "fontSize": 12, "align": "left", "baseline": "alphabetic"},
   "encoding": {"x": {"datum": 9.3, "type": "quantitative", "axis": null}, "y": {"datum": 6607, "type": "quantitative", "axis": null}}},
  {"data": {"values": [{}]}, "mark": {"type": "text", "text": "e+jets, \u2265 2 b-tags", "fontSize": 12, "align": "left", "baseline": "alphabetic"},
   "encoding": {"x": {"datum": 13.29, "type": "quantitative", "axis": null}, "y": {"datum": 5932, "type": "quantitative", "axis": null}}}
 ],
 "resolve": {"axis": {"x": "independent", "y": "independent"}}},
{"width": 301, "height": 290, "data": {"name": "p2"},
 "layer": [
  {"transform": [{"fold": ["Diboson","Z+jets","Multijet","Single top","W+jets"], "as": ["proc","n"]}, {"stack": "n", "groupby": ["lo"], "as": ["s0","s1"]}],
   "mark": {"type": "rect", "clip": true},
   "encoding": {
    "x": {"field": "lo", "type": "quantitative", "scale": {"domain": [25,250], "nice": false, "zero": false}, "axis": {"orient": "bottom", "labels": false, "title": null, "domain": true, "domainColor": "black", "tickCount": 23, "tickSize": {"condition": {"test": "datum.value % 50 === 0", "value": -9}, "value": -4.5}}},
    "x2": {"field": "hi"},
    "y": {"field": "s0", "type": "quantitative", "scale": {"domain": [0,5000], "nice": false, "zero": false}, "axis": {"orient": "left", "values": [500,1000,1500,2000,2500,3000,3500,4000,4500], "ticks": false, "labelPadding": 2, "format": "d", "title": "Events / 5 GeV", "titleAnchor": "end", "titleX": -49, "titleBaseline": "alphabetic"}},
    "y2": {"field": "s1"},
    "color": {"field": "proc", "type": "nominal", "scale": {"domain": ["Data","tt\u0304","W+jets","Single top","Multijet","Z+jets","Diboson","Uncertainty"], "range": ["black","white","#FDB515","#3E83F5","#3C0A96","#FF5A14","#F4FF1E","#dadada"]},
     "legend": {"orient": "none", "legendX": 184, "legendY": 11.3, "title": null, "padding": 0, "labelFont": "Liberation Sans", "labelFontSize": 12, "labelColor": "black", "labelOffset": 8, "rowPadding": 1.2, "symbolSize": 100,
      "encode": {"symbols": {"update": {"shape": [{"test": "datum.value === 'Data'", "value": "M-0.45,0A0.45,0.45 0 1,1 0.45,0A0.45,0.45 0 1,1 -0.45,0ZM-0.08,-0.95H0.08V0.95H-0.08Z"}, {"value": "M-1.8,-0.85H1.8V0.85H-1.8Z"}], "stroke": [{"test": "indexof(datum.value, 'tt') === 0", "value": "black"}, {"test": "datum.value === 'Uncertainty'", "value": "#606060"}, {"value": "transparent"}], "strokeWidth": {"value": 0.9}}}}}}
   }},
  {"mark": {"type": "rect", "fill": "#888888", "fillOpacity": 0.28, "clip": true},
   "encoding": {
    "x": {"field": "lo", "type": "quantitative", "axis": {"orient": "top", "labels": false, "title": null, "domain": true, "domainColor": "black", "tickCount": 23, "tickSize": {"condition": {"test": "datum.value % 50 === 0", "value": -9}, "value": -4.5}}},
    "x2": {"field": "hi"},
    "y": {"field": "ul", "type": "quantitative", "axis": {"orient": "left", "labels": false, "title": null, "domain": true, "domainColor": "black", "tickCount": 50, "tickSize": {"condition": {"test": "datum.value % 500 === 0", "value": -9}, "value": -4.5}}},
    "y2": {"field": "uh"}}},
  {"mark": {"type": "line", "interpolate": "step-after", "color": "black", "strokeWidth": 1.2, "clip": true},
   "encoding": {
    "x": {"field": "lo", "type": "quantitative", "axis": null},
    "y": {"field": "p", "type": "quantitative", "axis": {"orient": "right", "labels": false, "title": null, "domain": true, "domainColor": "black", "tickCount": 50, "tickSize": {"condition": {"test": "datum.value % 500 === 0", "value": -9}, "value": -4.5}}}}},
  {"mark": {"type": "rule", "color": "black", "strokeWidth": 1.2},
   "encoding": {"x": {"field": "lo", "type": "quantitative", "axis": null}, "x2": {"field": "hi"}, "y": {"field": "p", "type": "quantitative", "axis": null}}},
  {"mark": {"type": "point", "filled": true, "color": "black", "size": 18, "opacity": 1},
   "encoding": {"x": {"field": "c", "type": "quantitative", "axis": null}, "y": {"field": "d", "type": "quantitative", "axis": null}}},
  {"data": {"values": [{}]}, "mark": {"type": "text", "text": "ATLAS", "fontSize": 13, "fontWeight": "bold", "fontStyle": "italic", "align": "left", "baseline": "alphabetic"},
   "encoding": {"x": {"datum": 37.7, "type": "quantitative", "axis": null}, "y": {"datum": 4643, "type": "quantitative", "axis": null}}},
  {"data": {"values": [{}]}, "mark": {"type": "text", "text": "\u221as = 8 TeV, 20.2 fb\u207b\u00b9", "fontSize": 12, "align": "left", "baseline": "alphabetic"},
   "encoding": {"x": {"datum": 36.2, "type": "quantitative", "axis": null}, "y": {"datum": 4219, "type": "quantitative", "axis": null}}},
  {"data": {"values": [{}]}, "mark": {"type": "text", "text": "e+jets, \u2265 2 b-tags", "fontSize": 12, "align": "left", "baseline": "alphabetic"},
   "encoding": {"x": {"datum": 36.96, "type": "quantitative", "axis": null}, "y": {"datum": 3788, "type": "quantitative", "axis": null}}}
 ],
 "resolve": {"axis": {"x": "independent", "y": "independent"}}}
], "spacing": 104, "bounds": "flush", "resolve": {"scale": {"color": "independent"}, "legend": {"color": "independent"}}},
{"hconcat": [
{"width": 301, "height": 44, "data": {"name": "p1"},
 "layer": [
  {"mark": {"type": "rect", "fill": "#888888", "fillOpacity": 0.28, "clip": true},
   "encoding": {
    "x": {"field": "lo", "type": "quantitative", "scale": {"domain": [0,200], "nice": false, "zero": false}, "axis": {"orient": "bottom", "values": [0,50,100,150,200], "ticks": false, "labelPadding": 5, "title": "Lepton p\u209c [GeV]", "titleAnchor": "end", "titleY": 31, "titleBaseline": "alphabetic"}},
    "x2": {"field": "hi"},
    "y": {"field": "bl", "type": "quantitative", "scale": {"domain": [0.7,1.3], "nice": false, "zero": false}, "axis": {"orient": "left", "values": [0.8,1,1.2], "ticks": false, "labelPadding": 2, "format": "~g", "title": "Data/Pred.", "titleAnchor": "end", "titleX": -49, "titleBaseline": "alphabetic"}},
    "y2": {"field": "bh"}}},
  {"data": {"values": [{}]}, "mark": {"type": "rule", "color": "#e8392e", "strokeWidth": 1.5},
   "encoding": {"y": {"datum": 1, "type": "quantitative", "axis": null}}},
  {"mark": {"type": "errorbar", "color": "black", "thickness": 1.2, "clip": true},
   "encoding": {
    "x": {"field": "c", "type": "quantitative", "axis": {"orient": "top", "labels": false, "title": null, "domain": true, "domainColor": "black", "tickCount": 20, "tickSize": {"condition": {"test": "datum.value % 50 === 0", "value": -5}, "value": -2.5}}},
    "y": {"field": "r", "type": "quantitative", "axis": {"orient": "right", "labels": false, "title": null, "domain": true, "domainColor": "black", "tickCount": 6, "tickSize": {"condition": {"test": "abs(datum.value * 5 - round(datum.value * 5)) < 0.001", "value": -9}, "value": -4.5}}},
    "yError": {"field": "re"}}},
  {"mark": {"type": "point", "filled": true, "color": "black", "size": 18, "opacity": 1, "clip": true},
   "encoding": {
    "x": {"field": "c", "type": "quantitative", "axis": {"orient": "bottom", "labels": false, "title": null, "domain": true, "domainColor": "black", "tickCount": 20, "tickSize": {"condition": {"test": "datum.value % 50 === 0", "value": -5}, "value": -2.5}}},
    "y": {"field": "r", "type": "quantitative", "axis": {"orient": "left", "labels": false, "title": null, "domain": true, "domainColor": "black", "tickCount": 6, "tickSize": {"condition": {"test": "abs(datum.value * 5 - round(datum.value * 5)) < 0.001", "value": -9}, "value": -4.5}}}}}
 ],
 "resolve": {"axis": {"x": "independent", "y": "independent"}}},
{"width": 301, "height": 44, "data": {"name": "p2"},
 "layer": [
  {"mark": {"type": "rect", "fill": "#888888", "fillOpacity": 0.28, "clip": true},
   "encoding": {
    "x": {"field": "lo", "type": "quantitative", "scale": {"domain": [25,250], "nice": false, "zero": false}, "axis": {"orient": "bottom", "values": [50,100,150,200,250], "ticks": false, "labelPadding": 5, "title": "Leading b-tagged jet p\u209c [GeV]", "titleAnchor": "end", "titleY": 31, "titleBaseline": "alphabetic"}},
    "x2": {"field": "hi"},
    "y": {"field": "bl", "type": "quantitative", "scale": {"domain": [0.7,1.3], "nice": false, "zero": false}, "axis": {"orient": "left", "values": [0.8,1,1.2], "ticks": false, "labelPadding": 2, "format": "~g", "title": "Data/Pred.", "titleAnchor": "end", "titleX": -49, "titleBaseline": "alphabetic"}},
    "y2": {"field": "bh"}}},
  {"data": {"values": [{}]}, "mark": {"type": "rule", "color": "#e8392e", "strokeWidth": 1.5},
   "encoding": {"y": {"datum": 1, "type": "quantitative", "axis": null}}},
  {"mark": {"type": "errorbar", "color": "black", "thickness": 1.2, "clip": true},
   "encoding": {
    "x": {"field": "c", "type": "quantitative", "axis": {"orient": "top", "labels": false, "title": null, "domain": true, "domainColor": "black", "tickCount": 23, "tickSize": {"condition": {"test": "datum.value % 50 === 0", "value": -5}, "value": -2.5}}},
    "y": {"field": "r", "type": "quantitative", "axis": {"orient": "right", "labels": false, "title": null, "domain": true, "domainColor": "black", "tickCount": 6, "tickSize": {"condition": {"test": "abs(datum.value * 5 - round(datum.value * 5)) < 0.001", "value": -9}, "value": -4.5}}},
    "yError": {"field": "re"}}},
  {"mark": {"type": "point", "filled": true, "color": "black", "size": 18, "opacity": 1, "clip": true},
   "encoding": {
    "x": {"field": "c", "type": "quantitative", "axis": {"orient": "bottom", "labels": false, "title": null, "domain": true, "domainColor": "black", "tickCount": 23, "tickSize": {"condition": {"test": "datum.value % 50 === 0", "value": -5}, "value": -2.5}}},
    "y": {"field": "r", "type": "quantitative", "axis": {"orient": "left", "labels": false, "title": null, "domain": true, "domainColor": "black", "tickCount": 6, "tickSize": {"condition": {"test": "abs(datum.value * 5 - round(datum.value * 5)) < 0.001", "value": -9}, "value": -4.5}}}}}
 ],
 "resolve": {"axis": {"x": "independent", "y": "independent"}}}
], "spacing": 104, "bounds": "flush", "resolve": {"scale": {"color": "independent"}, "legend": {"color": "independent"}}}
], "spacing": 1, "resolve": {"scale": {"color": "independent"}, "legend": {"color": "independent"}}},
{"vconcat": [
{"hconcat": [
{"width": 301, "height": 290, "data": {"name": "p3"},
 "layer": [
  {"transform": [{"fold": ["Diboson","Z+jets","Multijet","Single top","W+jets"], "as": ["proc","n"]}, {"stack": "n", "groupby": ["lo"], "as": ["s0","s1"]}],
   "mark": {"type": "rect", "clip": true},
   "encoding": {
    "x": {"field": "lo", "type": "quantitative", "scale": {"domain": [-2.5,2.5], "nice": false, "zero": false}, "axis": {"orient": "bottom", "labels": false, "title": null, "domain": true, "domainColor": "black", "tickCount": 25, "tickSize": {"condition": {"test": "abs(datum.value - round(datum.value)) < 0.001", "value": -9}, "value": -4.5}}},
    "x2": {"field": "hi"},
    "y": {"field": "s0", "type": "quantitative", "scale": {"domain": [0,6550], "nice": false, "zero": false}, "axis": {"orient": "left", "values": [1000,2000,3000,4000,5000,6000], "ticks": false, "labelPadding": 2, "format": "d", "title": "Events / 0.25", "titleAnchor": "end", "titleX": -49, "titleBaseline": "alphabetic"}},
    "y2": {"field": "s1"},
    "color": {"field": "proc", "type": "nominal", "scale": {"domain": ["Data","tt\u0304","W+jets","Single top","Multijet","Z+jets","Diboson","Uncertainty"], "range": ["black","white","#FDB515","#3E83F5","#3C0A96","#FF5A14","#F4FF1E","#dadada"]},
     "legend": {"orient": "none", "legendX": 184, "legendY": 11.3, "title": null, "padding": 0, "labelFont": "Liberation Sans", "labelFontSize": 12, "labelColor": "black", "labelOffset": 8, "rowPadding": 1.2, "symbolSize": 100,
      "encode": {"symbols": {"update": {"shape": [{"test": "datum.value === 'Data'", "value": "M-0.45,0A0.45,0.45 0 1,1 0.45,0A0.45,0.45 0 1,1 -0.45,0ZM-0.08,-0.95H0.08V0.95H-0.08Z"}, {"value": "M-1.8,-0.85H1.8V0.85H-1.8Z"}], "stroke": [{"test": "indexof(datum.value, 'tt') === 0", "value": "black"}, {"test": "datum.value === 'Uncertainty'", "value": "#606060"}, {"value": "transparent"}], "strokeWidth": {"value": 0.9}}}}}}
   }},
  {"mark": {"type": "rect", "fill": "#888888", "fillOpacity": 0.28, "clip": true},
   "encoding": {
    "x": {"field": "lo", "type": "quantitative", "axis": {"orient": "top", "labels": false, "title": null, "domain": true, "domainColor": "black", "tickCount": 25, "tickSize": {"condition": {"test": "abs(datum.value - round(datum.value)) < 0.001", "value": -9}, "value": -4.5}}},
    "x2": {"field": "hi"},
    "y": {"field": "ul", "type": "quantitative", "axis": {"orient": "left", "labels": false, "title": null, "domain": true, "domainColor": "black", "tickCount": 33, "tickSize": {"condition": {"test": "datum.value % 1000 === 0", "value": -9}, "value": -4.5}}},
    "y2": {"field": "uh"}}},
  {"mark": {"type": "line", "interpolate": "step-after", "color": "black", "strokeWidth": 1.2, "clip": true},
   "encoding": {
    "x": {"field": "lo", "type": "quantitative", "axis": null},
    "y": {"field": "p", "type": "quantitative", "axis": {"orient": "right", "labels": false, "title": null, "domain": true, "domainColor": "black", "tickCount": 33, "tickSize": {"condition": {"test": "datum.value % 1000 === 0", "value": -9}, "value": -4.5}}}}},
  {"mark": {"type": "rule", "color": "black", "strokeWidth": 1.2},
   "encoding": {"x": {"field": "lo", "type": "quantitative", "axis": null}, "x2": {"field": "hi"}, "y": {"field": "p", "type": "quantitative", "axis": null}}},
  {"mark": {"type": "point", "filled": true, "color": "black", "size": 18, "opacity": 1},
   "encoding": {"x": {"field": "c", "type": "quantitative", "axis": null}, "y": {"field": "d", "type": "quantitative", "axis": null}}},
  {"data": {"values": [{}]}, "mark": {"type": "text", "text": "ATLAS", "fontSize": 13, "fontWeight": "bold", "fontStyle": "italic", "align": "left", "baseline": "alphabetic"},
   "encoding": {"x": {"datum": -2.234, "type": "quantitative", "axis": null}, "y": {"datum": 6082, "type": "quantitative", "axis": null}}},
  {"data": {"values": [{}]}, "mark": {"type": "text", "text": "\u221as = 8 TeV, 20.2 fb\u207b\u00b9", "fontSize": 12, "align": "left", "baseline": "alphabetic"},
   "encoding": {"x": {"datum": -2.267, "type": "quantitative", "axis": null}, "y": {"datum": 5527, "type": "quantitative", "axis": null}}},
  {"data": {"values": [{}]}, "mark": {"type": "text", "text": "e+jets, \u2265 2 b-tags", "fontSize": 12, "align": "left", "baseline": "alphabetic"},
   "encoding": {"x": {"datum": -2.234, "type": "quantitative", "axis": null}, "y": {"datum": 4962, "type": "quantitative", "axis": null}}}
 ],
 "resolve": {"axis": {"x": "independent", "y": "independent"}}},
{"width": 301, "height": 290, "data": {"name": "p4"},
 "layer": [
  {"transform": [{"fold": ["Diboson","Z+jets","Multijet","Single top","W+jets"], "as": ["proc","n"]}, {"stack": "n", "groupby": ["lo"], "as": ["s0","s1"]}],
   "mark": {"type": "rect", "clip": true},
   "encoding": {
    "x": {"field": "lo", "type": "quantitative", "scale": {"domain": [-2.5,2.5], "nice": false, "zero": false}, "axis": {"orient": "bottom", "labels": false, "title": null, "domain": true, "domainColor": "black", "tickCount": 25, "tickSize": {"condition": {"test": "abs(datum.value - round(datum.value)) < 0.001", "value": -9}, "value": -4.5}}},
    "x2": {"field": "hi"},
    "y": {"field": "s0", "type": "quantitative", "scale": {"domain": [0,6550], "nice": false, "zero": false}, "axis": {"orient": "left", "values": [1000,2000,3000,4000,5000,6000], "ticks": false, "labelPadding": 2, "format": "d", "title": "Events / 0.25", "titleAnchor": "end", "titleX": -49, "titleBaseline": "alphabetic"}},
    "y2": {"field": "s1"},
    "color": {"field": "proc", "type": "nominal", "scale": {"domain": ["Data","tt\u0304","W+jets","Single top","Multijet","Z+jets","Diboson","Uncertainty"], "range": ["black","white","#FDB515","#3E83F5","#3C0A96","#FF5A14","#F4FF1E","#dadada"]},
     "legend": {"orient": "none", "legendX": 184, "legendY": 11.3, "title": null, "padding": 0, "labelFont": "Liberation Sans", "labelFontSize": 12, "labelColor": "black", "labelOffset": 8, "rowPadding": 1.2, "symbolSize": 100,
      "encode": {"symbols": {"update": {"shape": [{"test": "datum.value === 'Data'", "value": "M-0.45,0A0.45,0.45 0 1,1 0.45,0A0.45,0.45 0 1,1 -0.45,0ZM-0.08,-0.95H0.08V0.95H-0.08Z"}, {"value": "M-1.8,-0.85H1.8V0.85H-1.8Z"}], "stroke": [{"test": "indexof(datum.value, 'tt') === 0", "value": "black"}, {"test": "datum.value === 'Uncertainty'", "value": "#606060"}, {"value": "transparent"}], "strokeWidth": {"value": 0.9}}}}}}
   }},
  {"mark": {"type": "rect", "fill": "#888888", "fillOpacity": 0.28, "clip": true},
   "encoding": {
    "x": {"field": "lo", "type": "quantitative", "axis": {"orient": "top", "labels": false, "title": null, "domain": true, "domainColor": "black", "tickCount": 25, "tickSize": {"condition": {"test": "abs(datum.value - round(datum.value)) < 0.001", "value": -9}, "value": -4.5}}},
    "x2": {"field": "hi"},
    "y": {"field": "ul", "type": "quantitative", "axis": {"orient": "left", "labels": false, "title": null, "domain": true, "domainColor": "black", "tickCount": 33, "tickSize": {"condition": {"test": "datum.value % 1000 === 0", "value": -9}, "value": -4.5}}},
    "y2": {"field": "uh"}}},
  {"mark": {"type": "line", "interpolate": "step-after", "color": "black", "strokeWidth": 1.2, "clip": true},
   "encoding": {
    "x": {"field": "lo", "type": "quantitative", "axis": null},
    "y": {"field": "p", "type": "quantitative", "axis": {"orient": "right", "labels": false, "title": null, "domain": true, "domainColor": "black", "tickCount": 33, "tickSize": {"condition": {"test": "datum.value % 1000 === 0", "value": -9}, "value": -4.5}}}}},
  {"mark": {"type": "rule", "color": "black", "strokeWidth": 1.2},
   "encoding": {"x": {"field": "lo", "type": "quantitative", "axis": null}, "x2": {"field": "hi"}, "y": {"field": "p", "type": "quantitative", "axis": null}}},
  {"mark": {"type": "point", "filled": true, "color": "black", "size": 18, "opacity": 1},
   "encoding": {"x": {"field": "c", "type": "quantitative", "axis": null}, "y": {"field": "d", "type": "quantitative", "axis": null}}},
  {"data": {"values": [{}]}, "mark": {"type": "text", "text": "ATLAS", "fontSize": 13, "fontWeight": "bold", "fontStyle": "italic", "align": "left", "baseline": "alphabetic"},
   "encoding": {"x": {"datum": -2.218, "type": "quantitative", "axis": null}, "y": {"datum": 6082, "type": "quantitative", "axis": null}}},
  {"data": {"values": [{}]}, "mark": {"type": "text", "text": "\u221as = 8 TeV, 20.2 fb\u207b\u00b9", "fontSize": 12, "align": "left", "baseline": "alphabetic"},
   "encoding": {"x": {"datum": -2.251, "type": "quantitative", "axis": null}, "y": {"datum": 5527, "type": "quantitative", "axis": null}}},
  {"data": {"values": [{}]}, "mark": {"type": "text", "text": "e+jets, \u2265 2 b-tags", "fontSize": 12, "align": "left", "baseline": "alphabetic"},
   "encoding": {"x": {"datum": -2.234, "type": "quantitative", "axis": null}, "y": {"datum": 4962, "type": "quantitative", "axis": null}}}
 ],
 "resolve": {"axis": {"x": "independent", "y": "independent"}}}
], "spacing": 104, "bounds": "flush", "resolve": {"scale": {"color": "independent"}, "legend": {"color": "independent"}}},
{"hconcat": [
{"width": 301, "height": 44, "data": {"name": "p3"},
 "layer": [
  {"mark": {"type": "rect", "fill": "#888888", "fillOpacity": 0.28, "clip": true},
   "encoding": {
    "x": {"field": "lo", "type": "quantitative", "scale": {"domain": [-2.5,2.5], "nice": false, "zero": false}, "axis": {"orient": "bottom", "values": [-2,-1,0,1,2], "ticks": false, "labelPadding": 5, "title": "Lepton \u03b7", "titleAnchor": "end", "titleY": 31, "titleBaseline": "alphabetic"}},
    "x2": {"field": "hi"},
    "y": {"field": "bl", "type": "quantitative", "scale": {"domain": [0.7,1.3], "nice": false, "zero": false}, "axis": {"orient": "left", "values": [0.8,1,1.2], "ticks": false, "labelPadding": 2, "format": "~g", "title": "Data/Pred.", "titleAnchor": "end", "titleX": -49, "titleBaseline": "alphabetic"}},
    "y2": {"field": "bh"}}},
  {"data": {"values": [{}]}, "mark": {"type": "rule", "color": "#e8392e", "strokeWidth": 1.5},
   "encoding": {"y": {"datum": 1, "type": "quantitative", "axis": null}}},
  {"mark": {"type": "errorbar", "color": "black", "thickness": 1.2, "clip": true},
   "encoding": {
    "x": {"field": "c", "type": "quantitative", "axis": {"orient": "top", "labels": false, "title": null, "domain": true, "domainColor": "black", "tickCount": 25, "tickSize": {"condition": {"test": "abs(datum.value - round(datum.value)) < 0.001", "value": -5}, "value": -2.5}}},
    "y": {"field": "r", "type": "quantitative", "axis": {"orient": "right", "labels": false, "title": null, "domain": true, "domainColor": "black", "tickCount": 6, "tickSize": {"condition": {"test": "abs(datum.value * 5 - round(datum.value * 5)) < 0.001", "value": -9}, "value": -4.5}}},
    "yError": {"field": "re"}}},
  {"mark": {"type": "point", "filled": true, "color": "black", "size": 18, "opacity": 1, "clip": true},
   "encoding": {
    "x": {"field": "c", "type": "quantitative", "axis": {"orient": "bottom", "labels": false, "title": null, "domain": true, "domainColor": "black", "tickCount": 25, "tickSize": {"condition": {"test": "abs(datum.value - round(datum.value)) < 0.001", "value": -5}, "value": -2.5}}},
    "y": {"field": "r", "type": "quantitative", "axis": {"orient": "left", "labels": false, "title": null, "domain": true, "domainColor": "black", "tickCount": 6, "tickSize": {"condition": {"test": "abs(datum.value * 5 - round(datum.value * 5)) < 0.001", "value": -9}, "value": -4.5}}}}}
 ],
 "resolve": {"axis": {"x": "independent", "y": "independent"}}},
{"width": 301, "height": 44, "data": {"name": "p4"},
 "layer": [
  {"mark": {"type": "rect", "fill": "#888888", "fillOpacity": 0.28, "clip": true},
   "encoding": {
    "x": {"field": "lo", "type": "quantitative", "scale": {"domain": [-2.5,2.5], "nice": false, "zero": false}, "axis": {"orient": "bottom", "values": [-2,-1,0,1,2], "ticks": false, "labelPadding": 5, "title": "Leading b-tagged jet \u03b7", "titleAnchor": "end", "titleY": 31, "titleBaseline": "alphabetic"}},
    "x2": {"field": "hi"},
    "y": {"field": "bl", "type": "quantitative", "scale": {"domain": [0.7,1.3], "nice": false, "zero": false}, "axis": {"orient": "left", "values": [0.8,1,1.2], "ticks": false, "labelPadding": 2, "format": "~g", "title": "Data/Pred.", "titleAnchor": "end", "titleX": -49, "titleBaseline": "alphabetic"}},
    "y2": {"field": "bh"}}},
  {"data": {"values": [{}]}, "mark": {"type": "rule", "color": "#e8392e", "strokeWidth": 1.5},
   "encoding": {"y": {"datum": 1, "type": "quantitative", "axis": null}}},
  {"mark": {"type": "errorbar", "color": "black", "thickness": 1.2, "clip": true},
   "encoding": {
    "x": {"field": "c", "type": "quantitative", "axis": {"orient": "top", "labels": false, "title": null, "domain": true, "domainColor": "black", "tickCount": 25, "tickSize": {"condition": {"test": "abs(datum.value - round(datum.value)) < 0.001", "value": -5}, "value": -2.5}}},
    "y": {"field": "r", "type": "quantitative", "axis": {"orient": "right", "labels": false, "title": null, "domain": true, "domainColor": "black", "tickCount": 6, "tickSize": {"condition": {"test": "abs(datum.value * 5 - round(datum.value * 5)) < 0.001", "value": -9}, "value": -4.5}}},
    "yError": {"field": "re"}}},
  {"mark": {"type": "point", "filled": true, "color": "black", "size": 18, "opacity": 1, "clip": true},
   "encoding": {
    "x": {"field": "c", "type": "quantitative", "axis": {"orient": "bottom", "labels": false, "title": null, "domain": true, "domainColor": "black", "tickCount": 25, "tickSize": {"condition": {"test": "abs(datum.value - round(datum.value)) < 0.001", "value": -5}, "value": -2.5}}},
    "y": {"field": "r", "type": "quantitative", "axis": {"orient": "left", "labels": false, "title": null, "domain": true, "domainColor": "black", "tickCount": 6, "tickSize": {"condition": {"test": "abs(datum.value * 5 - round(datum.value * 5)) < 0.001", "value": -9}, "value": -4.5}}}}}
 ],
 "resolve": {"axis": {"x": "independent", "y": "independent"}}}
], "spacing": 104, "bounds": "flush", "resolve": {"scale": {"color": "independent"}, "legend": {"color": "independent"}}}
], "spacing": 1, "resolve": {"scale": {"color": "independent"}, "legend": {"color": "independent"}}},
{"vconcat": [
{"hconcat": [
{"width": 301, "height": 290, "data": {"name": "p5"},
 "layer": [
  {"transform": [{"fold": ["Diboson","Z+jets","Multijet","Single top","W+jets"], "as": ["proc","n"]}, {"stack": "n", "groupby": ["lo"], "as": ["s0","s1"]}],
   "mark": {"type": "rect", "clip": true},
   "encoding": {
    "x": {"field": "lo", "type": "quantitative", "scale": {"domain": [0,200], "nice": false, "zero": false}, "axis": {"orient": "bottom", "labels": false, "title": null, "domain": true, "domainColor": "black", "tickCount": 20, "tickSize": {"condition": {"test": "datum.value % 50 === 0", "value": -9}, "value": -4.5}}},
    "x2": {"field": "hi"},
    "y": {"field": "s0", "type": "quantitative", "scale": {"domain": [0,9330], "nice": false, "zero": false}, "axis": {"orient": "left", "values": [1000,2000,3000,4000,5000,6000,7000,8000,9000], "ticks": false, "labelPadding": 2, "format": "d", "title": "Events / 10 GeV", "titleAnchor": "end", "titleX": -49, "titleBaseline": "alphabetic"}},
    "y2": {"field": "s1"},
    "color": {"field": "proc", "type": "nominal", "scale": {"domain": ["Data","tt\u0304","W+jets","Single top","Multijet","Z+jets","Diboson","Uncertainty"], "range": ["black","white","#FDB515","#3E83F5","#3C0A96","#FF5A14","#F4FF1E","#dadada"]},
     "legend": {"orient": "none", "legendX": 184, "legendY": 11.3, "title": null, "padding": 0, "labelFont": "Liberation Sans", "labelFontSize": 12, "labelColor": "black", "labelOffset": 8, "rowPadding": 1.2, "symbolSize": 100,
      "encode": {"symbols": {"update": {"shape": [{"test": "datum.value === 'Data'", "value": "M-0.45,0A0.45,0.45 0 1,1 0.45,0A0.45,0.45 0 1,1 -0.45,0ZM-0.08,-0.95H0.08V0.95H-0.08Z"}, {"value": "M-1.8,-0.85H1.8V0.85H-1.8Z"}], "stroke": [{"test": "indexof(datum.value, 'tt') === 0", "value": "black"}, {"test": "datum.value === 'Uncertainty'", "value": "#606060"}, {"value": "transparent"}], "strokeWidth": {"value": 0.9}}}}}}
   }},
  {"mark": {"type": "rect", "fill": "#888888", "fillOpacity": 0.28, "clip": true},
   "encoding": {
    "x": {"field": "lo", "type": "quantitative", "axis": {"orient": "top", "labels": false, "title": null, "domain": true, "domainColor": "black", "tickCount": 20, "tickSize": {"condition": {"test": "datum.value % 50 === 0", "value": -9}, "value": -4.5}}},
    "x2": {"field": "hi"},
    "y": {"field": "ul", "type": "quantitative", "axis": {"orient": "left", "labels": false, "title": null, "domain": true, "domainColor": "black", "tickCount": 47, "tickSize": {"condition": {"test": "datum.value % 1000 === 0", "value": -9}, "value": -4.5}}},
    "y2": {"field": "uh"}}},
  {"mark": {"type": "line", "interpolate": "step-after", "color": "black", "strokeWidth": 1.2, "clip": true},
   "encoding": {
    "x": {"field": "lo", "type": "quantitative", "axis": null},
    "y": {"field": "p", "type": "quantitative", "axis": {"orient": "right", "labels": false, "title": null, "domain": true, "domainColor": "black", "tickCount": 47, "tickSize": {"condition": {"test": "datum.value % 1000 === 0", "value": -9}, "value": -4.5}}}}},
  {"mark": {"type": "rule", "color": "black", "strokeWidth": 1.2},
   "encoding": {"x": {"field": "lo", "type": "quantitative", "axis": null}, "x2": {"field": "hi"}, "y": {"field": "p", "type": "quantitative", "axis": null}}},
  {"mark": {"type": "point", "filled": true, "color": "black", "size": 18, "opacity": 1},
   "encoding": {"x": {"field": "c", "type": "quantitative", "axis": null}, "y": {"field": "d", "type": "quantitative", "axis": null}}},
  {"data": {"values": [{}]}, "mark": {"type": "text", "text": "ATLAS", "fontSize": 13, "fontWeight": "bold", "fontStyle": "italic", "align": "left", "baseline": "alphabetic"},
   "encoding": {"x": {"datum": 10.63, "type": "quantitative", "axis": null}, "y": {"datum": 8664, "type": "quantitative", "axis": null}}},
  {"data": {"values": [{}]}, "mark": {"type": "text", "text": "\u221as = 8 TeV, 20.2 fb\u207b\u00b9", "fontSize": 12, "align": "left", "baseline": "alphabetic"},
   "encoding": {"x": {"datum": 9.3, "type": "quantitative", "axis": null}, "y": {"datum": 7873, "type": "quantitative", "axis": null}}},
  {"data": {"values": [{}]}, "mark": {"type": "text", "text": "e+jets, \u2265 2 b-tags", "fontSize": 12, "align": "left", "baseline": "alphabetic"},
   "encoding": {"x": {"datum": 10.63, "type": "quantitative", "axis": null}, "y": {"datum": 7068, "type": "quantitative", "axis": null}}}
 ],
 "resolve": {"axis": {"x": "independent", "y": "independent"}}},
{"width": 301, "height": 290, "data": {"name": "p6"},
 "layer": [
  {"transform": [{"fold": ["Diboson","Z+jets","Multijet","Single top","W+jets"], "as": ["proc","n"]}, {"stack": "n", "groupby": ["lo"], "as": ["s0","s1"]}],
   "mark": {"type": "rect", "clip": true},
   "encoding": {
    "x": {"field": "lo", "type": "quantitative", "scale": {"domain": [0,200], "nice": false, "zero": false}, "axis": {"orient": "bottom", "labels": false, "title": null, "domain": true, "domainColor": "black", "tickCount": 20, "tickSize": {"condition": {"test": "datum.value % 50 === 0", "value": -9}, "value": -4.5}}},
    "x2": {"field": "hi"},
    "y": {"field": "s0", "type": "quantitative", "scale": {"domain": [0,9330], "nice": false, "zero": false}, "axis": {"orient": "left", "values": [1000,2000,3000,4000,5000,6000,7000,8000,9000], "ticks": false, "labelPadding": 2, "format": "d", "title": "Events / 10 GeV", "titleAnchor": "end", "titleX": -49, "titleBaseline": "alphabetic"}},
    "y2": {"field": "s1"},
    "color": {"field": "proc", "type": "nominal", "scale": {"domain": ["Data","tt\u0304","W+jets","Single top","Multijet","Z+jets","Diboson","Uncertainty"], "range": ["black","white","#FDB515","#3E83F5","#3C0A96","#FF5A14","#F4FF1E","#dadada"]},
     "legend": {"orient": "none", "legendX": 184, "legendY": 11.3, "title": null, "padding": 0, "labelFont": "Liberation Sans", "labelFontSize": 12, "labelColor": "black", "labelOffset": 8, "rowPadding": 1.2, "symbolSize": 100,
      "encode": {"symbols": {"update": {"shape": [{"test": "datum.value === 'Data'", "value": "M-0.45,0A0.45,0.45 0 1,1 0.45,0A0.45,0.45 0 1,1 -0.45,0ZM-0.08,-0.95H0.08V0.95H-0.08Z"}, {"value": "M-1.8,-0.85H1.8V0.85H-1.8Z"}], "stroke": [{"test": "indexof(datum.value, 'tt') === 0", "value": "black"}, {"test": "datum.value === 'Uncertainty'", "value": "#606060"}, {"value": "transparent"}], "strokeWidth": {"value": 0.9}}}}}}
   }},
  {"mark": {"type": "rect", "fill": "#888888", "fillOpacity": 0.28, "clip": true},
   "encoding": {
    "x": {"field": "lo", "type": "quantitative", "axis": {"orient": "top", "labels": false, "title": null, "domain": true, "domainColor": "black", "tickCount": 20, "tickSize": {"condition": {"test": "datum.value % 50 === 0", "value": -9}, "value": -4.5}}},
    "x2": {"field": "hi"},
    "y": {"field": "ul", "type": "quantitative", "axis": {"orient": "left", "labels": false, "title": null, "domain": true, "domainColor": "black", "tickCount": 47, "tickSize": {"condition": {"test": "datum.value % 1000 === 0", "value": -9}, "value": -4.5}}},
    "y2": {"field": "uh"}}},
  {"mark": {"type": "line", "interpolate": "step-after", "color": "black", "strokeWidth": 1.2, "clip": true},
   "encoding": {
    "x": {"field": "lo", "type": "quantitative", "axis": null},
    "y": {"field": "p", "type": "quantitative", "axis": {"orient": "right", "labels": false, "title": null, "domain": true, "domainColor": "black", "tickCount": 47, "tickSize": {"condition": {"test": "datum.value % 1000 === 0", "value": -9}, "value": -4.5}}}}},
  {"mark": {"type": "rule", "color": "black", "strokeWidth": 1.2},
   "encoding": {"x": {"field": "lo", "type": "quantitative", "axis": null}, "x2": {"field": "hi"}, "y": {"field": "p", "type": "quantitative", "axis": null}}},
  {"mark": {"type": "point", "filled": true, "color": "black", "size": 18, "opacity": 1},
   "encoding": {"x": {"field": "c", "type": "quantitative", "axis": null}, "y": {"field": "d", "type": "quantitative", "axis": null}}},
  {"data": {"values": [{}]}, "mark": {"type": "text", "text": "ATLAS", "fontSize": 13, "fontWeight": "bold", "fontStyle": "italic", "align": "left", "baseline": "alphabetic"},
   "encoding": {"x": {"datum": 11.3, "type": "quantitative", "axis": null}, "y": {"datum": 8664, "type": "quantitative", "axis": null}}},
  {"data": {"values": [{}]}, "mark": {"type": "text", "text": "\u221as = 8 TeV, 20.2 fb\u207b\u00b9", "fontSize": 12, "align": "left", "baseline": "alphabetic"},
   "encoding": {"x": {"datum": 9.97, "type": "quantitative", "axis": null}, "y": {"datum": 7873, "type": "quantitative", "axis": null}}},
  {"data": {"values": [{}]}, "mark": {"type": "text", "text": "e+jets, \u2265 2 b-tags", "fontSize": 12, "align": "left", "baseline": "alphabetic"},
   "encoding": {"x": {"datum": 10.63, "type": "quantitative", "axis": null}, "y": {"datum": 7068, "type": "quantitative", "axis": null}}}
 ],
 "resolve": {"axis": {"x": "independent", "y": "independent"}}}
], "spacing": 104, "bounds": "flush", "resolve": {"scale": {"color": "independent"}, "legend": {"color": "independent"}}},
{"hconcat": [
{"width": 301, "height": 44, "data": {"name": "p5"},
 "layer": [
  {"mark": {"type": "rect", "fill": "#888888", "fillOpacity": 0.28, "clip": true},
   "encoding": {
    "x": {"field": "lo", "type": "quantitative", "scale": {"domain": [0,200], "nice": false, "zero": false}, "axis": {"orient": "bottom", "values": [0,50,100,150,200], "ticks": false, "labelPadding": 5, "title": "E\u209c\u1d50\u2071\u02e2\u02e2 [GeV]", "titleAnchor": "end", "titleY": 31, "titleBaseline": "alphabetic"}},
    "x2": {"field": "hi"},
    "y": {"field": "bl", "type": "quantitative", "scale": {"domain": [0.7,1.3], "nice": false, "zero": false}, "axis": {"orient": "left", "values": [0.8,1,1.2], "ticks": false, "labelPadding": 2, "format": "~g", "title": "Data/Pred.", "titleAnchor": "end", "titleX": -49, "titleBaseline": "alphabetic"}},
    "y2": {"field": "bh"}}},
  {"data": {"values": [{}]}, "mark": {"type": "rule", "color": "#e8392e", "strokeWidth": 1.5},
   "encoding": {"y": {"datum": 1, "type": "quantitative", "axis": null}}},
  {"mark": {"type": "errorbar", "color": "black", "thickness": 1.2, "clip": true},
   "encoding": {
    "x": {"field": "c", "type": "quantitative", "axis": {"orient": "top", "labels": false, "title": null, "domain": true, "domainColor": "black", "tickCount": 20, "tickSize": {"condition": {"test": "datum.value % 50 === 0", "value": -5}, "value": -2.5}}},
    "y": {"field": "r", "type": "quantitative", "axis": {"orient": "right", "labels": false, "title": null, "domain": true, "domainColor": "black", "tickCount": 6, "tickSize": {"condition": {"test": "abs(datum.value * 5 - round(datum.value * 5)) < 0.001", "value": -9}, "value": -4.5}}},
    "yError": {"field": "re"}}},
  {"mark": {"type": "point", "filled": true, "color": "black", "size": 18, "opacity": 1, "clip": true},
   "encoding": {
    "x": {"field": "c", "type": "quantitative", "axis": {"orient": "bottom", "labels": false, "title": null, "domain": true, "domainColor": "black", "tickCount": 20, "tickSize": {"condition": {"test": "datum.value % 50 === 0", "value": -5}, "value": -2.5}}},
    "y": {"field": "r", "type": "quantitative", "axis": {"orient": "left", "labels": false, "title": null, "domain": true, "domainColor": "black", "tickCount": 6, "tickSize": {"condition": {"test": "abs(datum.value * 5 - round(datum.value * 5)) < 0.001", "value": -9}, "value": -4.5}}}}}
 ],
 "resolve": {"axis": {"x": "independent", "y": "independent"}}},
{"width": 301, "height": 44, "data": {"name": "p6"},
 "layer": [
  {"mark": {"type": "rect", "fill": "#888888", "fillOpacity": 0.28, "clip": true},
   "encoding": {
    "x": {"field": "lo", "type": "quantitative", "scale": {"domain": [0,200], "nice": false, "zero": false}, "axis": {"orient": "bottom", "values": [0,50,100,150,200], "ticks": false, "labelPadding": 5, "title": "m\u209c\u1d42 [GeV]", "titleAnchor": "end", "titleY": 31, "titleBaseline": "alphabetic"}},
    "x2": {"field": "hi"},
    "y": {"field": "bl", "type": "quantitative", "scale": {"domain": [0.7,1.3], "nice": false, "zero": false}, "axis": {"orient": "left", "values": [0.8,1,1.2], "ticks": false, "labelPadding": 2, "format": "~g", "title": "Data/Pred.", "titleAnchor": "end", "titleX": -49, "titleBaseline": "alphabetic"}},
    "y2": {"field": "bh"}}},
  {"data": {"values": [{}]}, "mark": {"type": "rule", "color": "#e8392e", "strokeWidth": 1.5},
   "encoding": {"y": {"datum": 1, "type": "quantitative", "axis": null}}},
  {"mark": {"type": "errorbar", "color": "black", "thickness": 1.2, "clip": true},
   "encoding": {
    "x": {"field": "c", "type": "quantitative", "axis": {"orient": "top", "labels": false, "title": null, "domain": true, "domainColor": "black", "tickCount": 20, "tickSize": {"condition": {"test": "datum.value % 50 === 0", "value": -5}, "value": -2.5}}},
    "y": {"field": "r", "type": "quantitative", "axis": {"orient": "right", "labels": false, "title": null, "domain": true, "domainColor": "black", "tickCount": 6, "tickSize": {"condition": {"test": "abs(datum.value * 5 - round(datum.value * 5)) < 0.001", "value": -9}, "value": -4.5}}},
    "yError": {"field": "re"}}},
  {"mark": {"type": "point", "filled": true, "color": "black", "size": 18, "opacity": 1, "clip": true},
   "encoding": {
    "x": {"field": "c", "type": "quantitative", "axis": {"orient": "bottom", "labels": false, "title": null, "domain": true, "domainColor": "black", "tickCount": 20, "tickSize": {"condition": {"test": "datum.value % 50 === 0", "value": -5}, "value": -2.5}}},
    "y": {"field": "r", "type": "quantitative", "axis": {"orient": "left", "labels": false, "title": null, "domain": true, "domainColor": "black", "tickCount": 6, "tickSize": {"condition": {"test": "abs(datum.value * 5 - round(datum.value * 5)) < 0.001", "value": -9}, "value": -4.5}}}}}
 ],
 "resolve": {"axis": {"x": "independent", "y": "independent"}}}
], "spacing": 104, "bounds": "flush", "resolve": {"scale": {"color": "independent"}, "legend": {"color": "independent"}}}
], "spacing": 1, "resolve": {"scale": {"color": "independent"}, "legend": {"color": "independent"}}}
]
}
